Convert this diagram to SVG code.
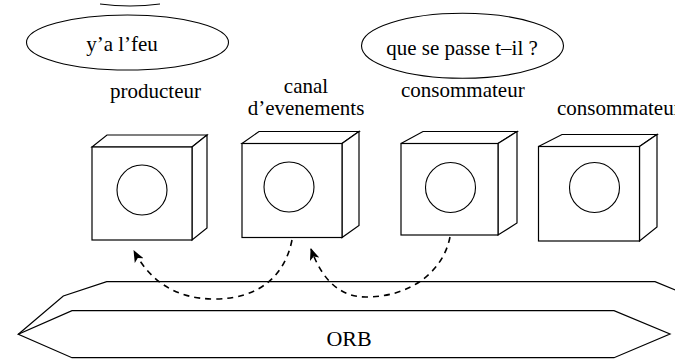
<svg xmlns="http://www.w3.org/2000/svg" width="675" height="363" viewBox="0 0 675 363">
<style>
text{font-family:"Liberation Serif","Times New Roman",serif;font-size:21px;fill:#000}
.ln{fill:#fff;stroke:#000;stroke-width:1.2;stroke-linejoin:miter}
.c{fill:none;stroke:#000;stroke-width:1.1}
.conn{fill:none;stroke:#000;stroke-width:1.6;stroke-dasharray:6,5}
</style>
<defs>
<marker id="ah" viewBox="0 0 12 10" refX="11" refY="5" markerWidth="12" markerHeight="10" markerUnits="userSpaceOnUse" orient="auto">
<path d="M0,0 L12,5 L0,10 L3,5 Z" fill="#000"/>
</marker>
</defs>
<rect width="675" height="363" fill="#fff"/>
<path d="M100,4 Q130,8 160,4" fill="none" stroke="#000" stroke-width="1"/>
<g id="bubble1">
<ellipse cx="127.5" cy="42.5" rx="101" ry="27.5" class="c"/>
<text x="122" y="51" text-anchor="middle">y’a l’feu</text>
</g>
<g id="bubble2">
<ellipse cx="462.5" cy="45.8" rx="101" ry="32.5" class="c"/>
<text x="462" y="55" text-anchor="middle">que se passe t–il ?</text>
</g>
<g id="labels">
<text x="110" y="98">producteur</text>
<text x="306" y="93" text-anchor="middle">canal</text>
<text x="306" y="115" text-anchor="middle">d’evenements</text>
<text x="401" y="97">consommateur</text>
<text x="557" y="115">consommateur</text>
</g>
<g id="orb">
<path class="ln" d="M18.3,334.3 L63.3,296 L106.7,281.7 L655,281.7 L690,296"/>
<polygon class="ln" points="72,310.7 614,310.7 670,334 614,357.7 72,357.7 18.3,334.3"/>
<text x="349" y="346" text-anchor="middle" style="font-size:22px">ORB</text>
</g>
<g id="producteur">
<polygon class="ln" points="92,147 107,135 207,135 192,147"/>
<polygon class="ln" points="192,147 207,135 207,228 192,240"/>
<rect class="ln" x="92" y="147" width="100" height="93"/>
<circle class="c" cx="142" cy="190" r="25"/>
</g>
<g id="canal">
<polygon class="ln" points="242,143.5 259,131.5 359,131.5 342,143.5"/>
<polygon class="ln" points="342,143.5 359,131.5 359,225.5 342,237.5"/>
<rect class="ln" x="242" y="143.5" width="100" height="94"/>
<circle class="c" cx="289" cy="187" r="25"/>
</g>
<g id="consommateur1">
<polygon class="ln" points="401,143.5 423,131.5 517,131.5 498,143.5"/>
<polygon class="ln" points="498,143.5 517,131.5 517,223 498,235"/>
<rect class="ln" x="401" y="143.5" width="97" height="91.5"/>
<circle class="c" cx="450.5" cy="187.5" r="25"/>
</g>
<g id="consommateur2">
<polygon class="ln" points="538.5,146.5 562,134.5 657,134.5 639.5,146.5"/>
<polygon class="ln" points="639.5,146.5 657,134.5 657,227 639.5,241"/>
<rect class="ln" x="538.5" y="146.5" width="101" height="94.5"/>
<circle class="c" cx="594.5" cy="187.5" r="25"/>
</g>
<g id="connectors">
<path class="conn" marker-end="url(#ah)" d="M292,240 C285,275 260,299 214,299 C176,299 150,281 134,251"/>
<path class="conn" marker-end="url(#ah)" d="M450,237 C443,272 410,297 366,297 C340,297 322,280 311,249"/>
</g>
</svg>
